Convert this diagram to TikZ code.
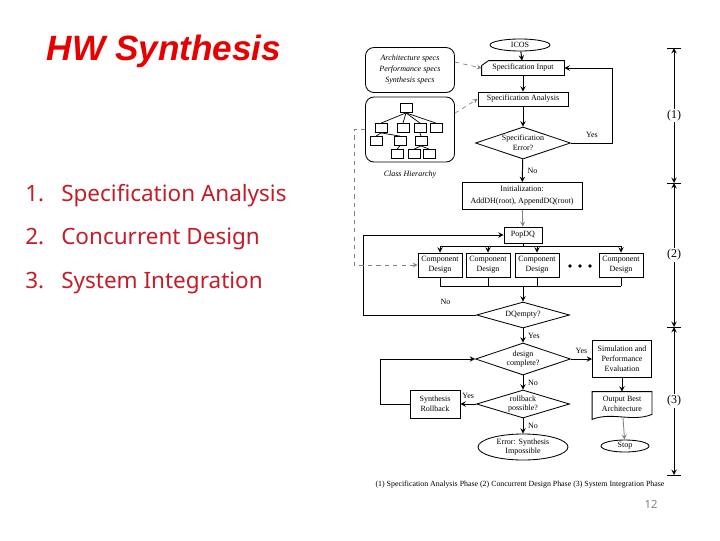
\documentclass[tikz,border=0pt]{standalone}
\usepackage{fontspec}
\setmainfont{Liberation Serif}
\newfontfamily\titlefont{Liberation Sans}
\newfontfamily\listfont{Noto Sans}
\usetikzlibrary{shapes.geometric,arrows,calc}
\definecolor{titlered}{RGB}{230,0,0}
\definecolor{listred}{RGB}{196,28,40}
\newcommand{\flowfont}{\fontsize{5.7}{7}\selectfont}

\begin{document}
\begin{tikzpicture}[x=0.025cm,y=-0.025cm,
  box/.style={rectangle,draw,line width=0.6pt,inner sep=1pt,align=center,font=\flowfont},
  dec/.style={diamond,draw,line width=0.6pt,aspect=3,inner sep=0pt,align=center,font=\flowfont},
  term/.style={ellipse,draw,line width=0.6pt,inner sep=0pt,align=center,font=\flowfont},
  specs/.style={rectangle,draw,line width=0.6pt,rounded corners=6pt,minimum width=2.225cm,align=center},
  cls/.style={rectangle,draw,line width=0.5pt,minimum width=0.3cm,minimum height=0.225cm,inner sep=0pt},
  lbl/.style={font=\flowfont},
  listitem/.style={anchor=west,inner sep=0pt,text=listred,font=\listfont\fontsize{16}{19}\selectfont},
  arrow/.style={->,>=stealth,line width=0.7pt},
  garrow/.style={->,>=stealth,gray,line width=0.6pt},
  gdash/.style={->,>=stealth,gray,dashed,line width=0.5pt},
  dimline/.style={<->,>=stealth,line width=0.7pt},
  phase/.style={fill=white,inner sep=1pt,font=\fontsize{8.5}{8.5}\selectfont}
]
\useasboundingbox (0,0) rectangle (720,540);

\node[font=\titlefont\bfseries\itshape\fontsize{25}{30}\selectfont,text=titlered] (title) at (164,51) {HW Synthesis};
\node[listitem] (item1) at (25,196) {\makebox[0.9cm][l]{1.}Specification Analysis};
\node[listitem] (item2) at (25,239) {\makebox[0.9cm][l]{2.}Concurrent Design};
\node[listitem] (item3) at (25,283) {\makebox[0.9cm][l]{3.}System Integration};

\node[term,minimum width=1.5cm,minimum height=0.3cm] (icos) at (520,45) {ICOS};
\node[box,draw=none,minimum width=2.05cm,minimum height=0.35cm] (specin) at (523,68) {Specification Input};
\draw[line width=0.6pt] (specin.south west) -- ($(specin.north west)+(0,5)$) -- ($(specin.north west)+(7,0)$) -- (specin.north east) -- (specin.south east) -- cycle;
\node[box,minimum width=2.25cm,minimum height=0.35cm] (specan) at (523,99) {Specification Analysis};
\node[dec,minimum width=2.375cm,minimum height=0.8cm] (specerr) at (523,143) {Specification\\Error?};
\node[box,font=\fontsize{5.7}{8.5}\selectfont,minimum width=3cm,minimum height=0.675cm] (init) at (522,196) {Initialization:\\AddDH(root), AppendDQ(root)};
\node[box,minimum width=0.95cm,minimum height=0.4cm] (popdq) at (523,235) {PopDQ};
\foreach \n/\x in {1/440,2/488,3/537,4/621}
  \node[box,minimum width=1.1cm,minimum height=0.6cm] (comp\n) at (\x,265) {Component\\Design};
\foreach \x in {570,580,590}
  \fill (\x,266) circle (1.8);
\node[dec,minimum width=2.325cm,minimum height=0.65cm] (dqempty) at (523,315) {DQempty?};
\node[dec,minimum width=2.375cm,minimum height=0.8cm] (dcomp) at (523,359) {design\\complete?};
\node[dec,minimum width=2.325cm,minimum height=0.7cm] (rollq) at (523,404) {rollback\\possible?};
\node[term,minimum width=2.25cm,minimum height=0.65cm] (errn) at (523,447) {Error: Synthesis\\Impossible};
\node[box,minimum width=1.25cm,minimum height=0.7cm] (synroll) at (435,404) {Synthesis\\Rollback};
\node[box,minimum width=1.475cm,minimum height=0.925cm] (simu) at (622,359) {Simulation and\\Performance\\Evaluation};
\node[box,draw=none,minimum width=1.475cm,minimum height=0.6cm] (outbest) at (622,404) {Output Best\\Architecture};
\draw[line width=0.6pt] (outbest.north west) -- (outbest.north east) -- ($(outbest.south east)+(0,-2)$) .. controls +(-20,8) and +(20,-8) .. ($(outbest.south west)+(0,3)$) -- cycle;
\node[term,minimum width=1.2cm,minimum height=0.3cm] (stopn) at (625,446) {Stop};

\node[specs,minimum height=1.125cm,font=\fontsize{5.7}{7.8}\selectfont\itshape] (specbox) at (410,70) {Architecture specs\\Performance specs\\Synthesis specs};
\node[specs,minimum height=1.625cm] (treebox) at (410,129.5) {};
\node[lbl,font=\flowfont\itshape] (clslbl) at (410,175) {Class Hierarchy};
\foreach \n/\x/\y in {0/406/108,1/381/128,2/403/128,3/420/128,4/436/128,5/376/141,6/400/141,7/421/141,8/397/154,9/414/154,10/429/154}
  \node[cls] (t\n) at (\x,\y) {};
\foreach \a/\b in {0/1,0/2,0/3,0/4,1/5,1/6,3/7,6/8,7/9,7/10}
  \draw[line width=0.5pt] (t\a.south) -- (t\b.north);

\draw[arrow] (icos) -- (specin);
\draw[arrow] (specin) -- (specan);
\draw[arrow] (specan) -- (specerr);
\draw[arrow] (specerr.east) -- ++(42,0) node[lbl,pos=0.5,above] {Yes} |- (specin.east);
\draw[arrow] (specerr) -- node[lbl,right] {No} (init);
\draw[garrow] (init) -- (popdq);
\draw[line width=0.7pt] (popdq.south) -- ++(0,3) coordinate (split);
\draw[line width=0.7pt] (comp1.north |- split) -- (comp4.north |- split);
\foreach \n in {1,...,4}
  \draw[arrow] (comp\n.north |- split) -- (comp\n.north);
\coordinate (join) at (523,286);
\foreach \n in {1,...,4}
  \draw[line width=0.7pt] (comp\n.south) -- (comp\n.south |- join);
\draw[line width=0.7pt] (comp1.south |- join) -- (comp4.south |- join);
\draw[arrow] (join) -- (dqempty);
\draw[arrow] (dqempty.west) -- ++(-113,0) node[lbl,pos=0.27,above=4pt] {No} |- (popdq.west);
\draw[arrow] (dqempty) -- node[lbl,right] {Yes} (dcomp);
\draw[arrow] (dcomp) -- node[lbl,above] {Yes} (simu);
\draw[arrow] (dcomp) -- node[lbl,right] {No} (rollq);
\draw[arrow] (rollq) -- node[lbl,above] {Yes} (synroll);
\draw[arrow] (rollq) -- node[lbl,right] {No} (errn);
\draw[arrow] (synroll.west) -- ++(-29,0) |- (dcomp.west);
\draw[arrow] (simu) -- (outbest);
\draw[garrow] (outbest) -- (stopn);

\draw[gdash] (specbox.10) -- (specin.west);
\draw[gdash] (treebox.20) -- (specan.west);
\draw[gdash] (treebox.west) -- ++(-11,0) |- (comp1.west);

\coordinate (b0) at (674,48);
\coordinate (b1) at (674,183);
\coordinate (b2) at (674,327);
\coordinate (b3) at (674,475);
\foreach \b in {b0,b1,b2,b3}
  \draw[line width=0.7pt] ($(\b)+(-7,0)$) -- ($(\b)+(7,0)$);
\draw[dimline] (b0) -- node[phase] (ph1) {(1)} (b1);
\draw[dimline] (b1) -- node[phase] (ph2) {(2)} (b2);
\draw[dimline] (b2) -- node[phase] (ph3) {(3)} (b3);

\node[font=\fontsize{5.6}{6}\selectfont] (caption) at (520,485) {(1) Specification Analysis Phase (2) Concurrent Design Phase (3) System Integration Phase};
\node[font=\listfont\fontsize{8}{8}\selectfont,text=gray] (pagenum) at (651,504) {12};
\end{tikzpicture}
\end{document}
